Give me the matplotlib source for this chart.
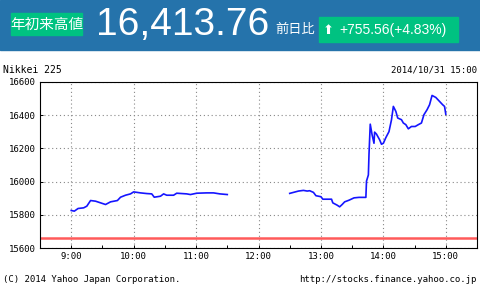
import matplotlib
matplotlib.use("Agg")
import matplotlib.pyplot as plt
from matplotlib.patches import Rectangle
from matplotlib.ticker import MultipleLocator, FixedLocator

plt.rcParams['font.family'] = ['Noto Sans CJK JP', 'DejaVu Sans']

# morning session (hours after midnight, index value)
am_time = [9.00, 9.05, 9.11, 9.20, 9.25, 9.31, 9.39, 9.47, 9.55, 9.63,
           9.74, 9.79, 9.87, 9.95, 10.00, 10.11, 10.21, 10.29, 10.33, 10.43,
           10.48, 10.53, 10.64, 10.69, 10.85, 10.91, 11.01, 11.17, 11.28, 11.38,
           11.50]
am_value = [15826, 15822, 15838, 15842, 15852, 15886, 15882, 15872, 15862, 15878,
            15886, 15906, 15918, 15926, 15938, 15932, 15928, 15926, 15906, 15912,
            15926, 15918, 15918, 15930, 15926, 15922, 15930, 15932, 15932, 15926,
            15922]

# afternoon session
pm_time = [12.50, 12.56, 12.64, 12.72, 12.78, 12.82, 12.88, 12.92, 13.00, 13.03,
           13.13, 13.17, 13.19, 13.26, 13.30, 13.34, 13.38, 13.45, 13.53, 13.61,
           13.72, 13.73, 13.76, 13.77, 13.79, 13.82, 13.85, 13.86, 13.89, 13.94,
           13.97, 14.00, 14.04, 14.09, 14.13, 14.16, 14.20, 14.23, 14.29, 14.32,
           14.36, 14.40, 14.45, 14.51, 14.56, 14.61, 14.65, 14.70, 14.74, 14.78,
           14.84, 14.89, 14.95, 14.98, 15.00]
pm_value = [15929, 15935, 15943, 15947, 15943, 15945, 15935, 15915, 15909, 15894,
            15894, 15894, 15872, 15858, 15848, 15862, 15878, 15888, 15902, 15905,
            15905, 16003, 16040, 16165, 16346, 16281, 16231, 16298, 16286, 16252,
            16225, 16231, 16265, 16301, 16372, 16453, 16423, 16383, 16373, 16353,
            16343, 16318, 16332, 16332, 16343, 16353, 16403, 16433, 16463, 16519,
            16507, 16487, 16463, 16453, 16406]

prev_close = 15658.20
header_title = "年初来高値"
header_price = "16,413.76"
header_change = "+755.56(+4.83%)"

fig = plt.figure(figsize=(4.8, 2.9), dpi=100)
W, H = 480, 290

def px(x, y):
    return x / W, 1 - y / H

# header band
fig.patches.append(Rectangle((0, 1 - 50 / H), 1, 50 / H, transform=fig.transFigure,
                             color="#2573ab", zorder=0))
fig.patches.append(Rectangle(px(11, 35), 71 / W, 22 / H, transform=fig.transFigure,
                             color="#00c281", zorder=1))
fig.patches.append(Rectangle(px(319, 42), 139 / W, 25 / H, transform=fig.transFigure,
                             color="#00c281", zorder=1))
fig.text(*px(46.5, 24.5), header_title, color="white", fontsize=10.5,
         ha="center", va="center")
fig.text(*px(96, 25), header_price, color="white", fontsize=28,
         family=["Liberation Sans", "DejaVu Sans"], ha="left", va="center")
fig.text(*px(295, 29), "前日比", color="white", fontsize=9.5,
         ha="center", va="center")
fig.text(*px(328, 30), "⬆", color="white", fontsize=9.5,
         family=["DejaVu Sans"], ha="center", va="center")
fig.text(*px(339, 30), header_change, color="white", fontsize=10,
         family=["Liberation Sans", "DejaVu Sans"], ha="left", va="center")

mono = ["DejaVu Sans Mono"]
fig.text(*px(3, 70), "Nikkei 225", fontsize=7, family=mono, ha="left", va="center")
fig.text(*px(477, 70), "2014/10/31 15:00", fontsize=6.5, family=mono,
         ha="right", va="center")
fig.text(*px(3, 279), "(C) 2014 Yahoo Japan Corporation.", fontsize=6.5,
         family=mono, ha="left", va="center")
fig.text(*px(477, 279), "http://stocks.finance.yahoo.co.jp", fontsize=6.5,
         family=mono, ha="right", va="center")

ax = fig.add_axes([40 / W, 42 / H, 437 / W, 166 / H])
ax.plot(am_time, am_value, color="#1515ff", lw=1.2)
ax.plot(pm_time, pm_value, color="#1515ff", lw=1.2)
ax.axhline(prev_close, color="#ff5a5a", lw=1.8)

ax.set_xlim(8.5, 15.5)
ax.set_ylim(15600, 16600)
ax.xaxis.set_major_locator(FixedLocator(range(9, 16)))
ax.xaxis.set_minor_locator(MultipleLocator(0.5))
ax.set_xticklabels([f"{h}:00" for h in range(9, 16)])
ax.yaxis.set_major_locator(MultipleLocator(200))
ax.grid(True, color="#888888", ls=(0, (1, 2.5)), lw=0.8)
ax.tick_params(axis="both", which="both", direction="in", length=2,
               labelsize=6.5, pad=3, width=0.7)
for lab in ax.get_xticklabels() + ax.get_yticklabels():
    lab.set_family(mono)
for s in ax.spines.values():
    s.set_linewidth(0.8)

fig.savefig("out.png", dpi=100)
